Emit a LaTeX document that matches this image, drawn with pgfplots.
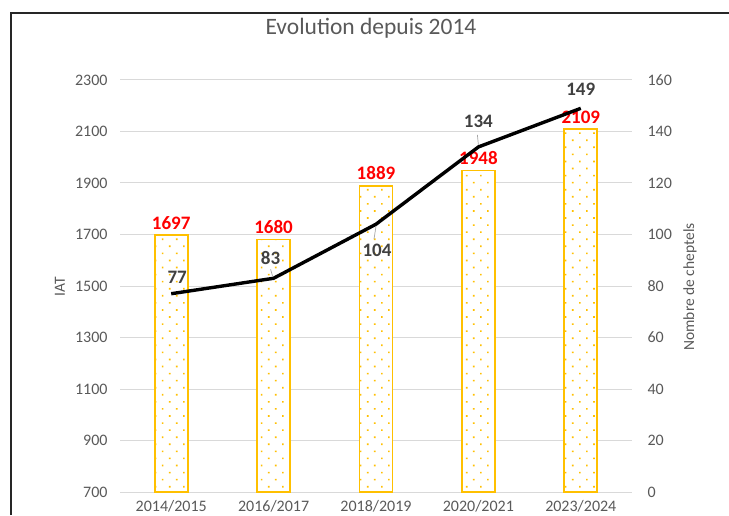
\documentclass[border=0pt]{standalone}
\usepackage{pgfplots}
\pgfplotsset{compat=1.18}
\usetikzlibrary{patterns.meta}
\usepackage{fontspec}
\setmainfont{Carlito}
\definecolor{txtgray}{HTML}{595959}
\definecolor{lblgray}{HTML}{404040}
\definecolor{barc}{HTML}{FFC000}
\definecolor{gridc}{HTML}{D9D9D9}
\begin{document}
\begin{tikzpicture}
\useasboundingbox (0pt,0pt) rectangle (729pt,515pt);
\draw[line width=2.6pt, color=black!85] (11pt,0pt) -- (11pt,502pt) -- (729pt,502pt);
\node[text=txtgray, font=\fontsize{23.5}{24}\selectfont] at (371pt,487pt) {Evolution depuis 2014};
\node[text=txtgray, font=\fontsize{15.5}{16}\selectfont, rotate=90] at (60pt,228pt) {IAT};
\node[text=txtgray, font=\fontsize{15.5}{16}\selectfont, rotate=90] at (690pt,228pt) {Nombre de cheptels};
\begin{axis}[
  at={(120pt,23pt)}, anchor=south west,
  scale only axis, width=512pt, height=412pt,
  xmin=-0.5, xmax=4.5, ymin=700, ymax=2300,
  ytick={700,900,...,2300},
  xtick={0,1,2,3,4},
  xticklabels={2014/2015,2016/2017,2018/2019,2020/2021,2023/2024},
  axis line style={draw=none},
  tick style={draw=none},
  ymajorgrids, grid style={gridc, line width=1pt},
  /pgf/number format/assume math mode=true,
  /pgf/number format/1000 sep={},
  ticklabel style={text=txtgray, font=\fontsize{16}{16}\selectfont},
  yticklabel style={xshift=-9pt},
  xticklabel style={yshift=-1pt},
  ybar, bar width=33pt,
  nodes near coords,
  nodes near coords style={text=red, font=\bfseries\fontsize{19}{19}\selectfont, anchor=south, inner sep=0pt, yshift=5pt, /pgf/number format/1000 sep={}},
]
\addplot[draw=barc, line width=1.6pt, fill=white,
  postaction={pattern={Dots[distance=10pt,angle=45,radius=1.15pt]}, pattern color=barc}]
  coordinates {(0,1697) (1,1680) (2,1889) (3,1948) (4,2109)};
\end{axis}
\begin{axis}[
  at={(120pt,23pt)}, anchor=south west,
  scale only axis, width=512pt, height=412pt,
  xmin=-0.5, xmax=4.5, ymin=0, ymax=160,
  ytick={0,20,...,160},
  axis y line*=right, hide x axis,
  axis line style={draw=none},
  tick style={draw=none},
  /pgf/number format/assume math mode=true,
  ticklabel style={text=txtgray, font=\fontsize{16}{16}\selectfont},
  yticklabel style={xshift=12pt},
  clip=false,
]
\addplot[black, line width=3.4pt, mark=none,
  nodes near coords,
  point meta=explicit symbolic,
  visualization depends on={\thisrow{dx}\as\dx},
  visualization depends on={\thisrow{dy}\as\dy},
  nodes near coords style={text=lblgray, font=\bfseries\fontsize{19}{19}\selectfont, anchor=center, xshift=\dx pt, yshift=\dy pt}]
  table[x=x, y=y, meta=y] {
x y dx dy
0 77 6 16
1 83 -3 20
2 104 1 -26
3 134 0 26
4 149 0 19
};
\draw[gray!70, line width=0.7pt] (axis cs:1,83) ++(-1pt,2pt) -- ++(-2pt,7pt);
\draw[gray!70, line width=0.7pt] (axis cs:2,104) ++(0pt,-2pt) -- ++(-2pt,-13pt);
\draw[gray!70, line width=0.7pt] (axis cs:3,134) ++(0pt,2pt) -- ++(-1pt,10pt);
\end{axis}
\end{tikzpicture}
\end{document}
